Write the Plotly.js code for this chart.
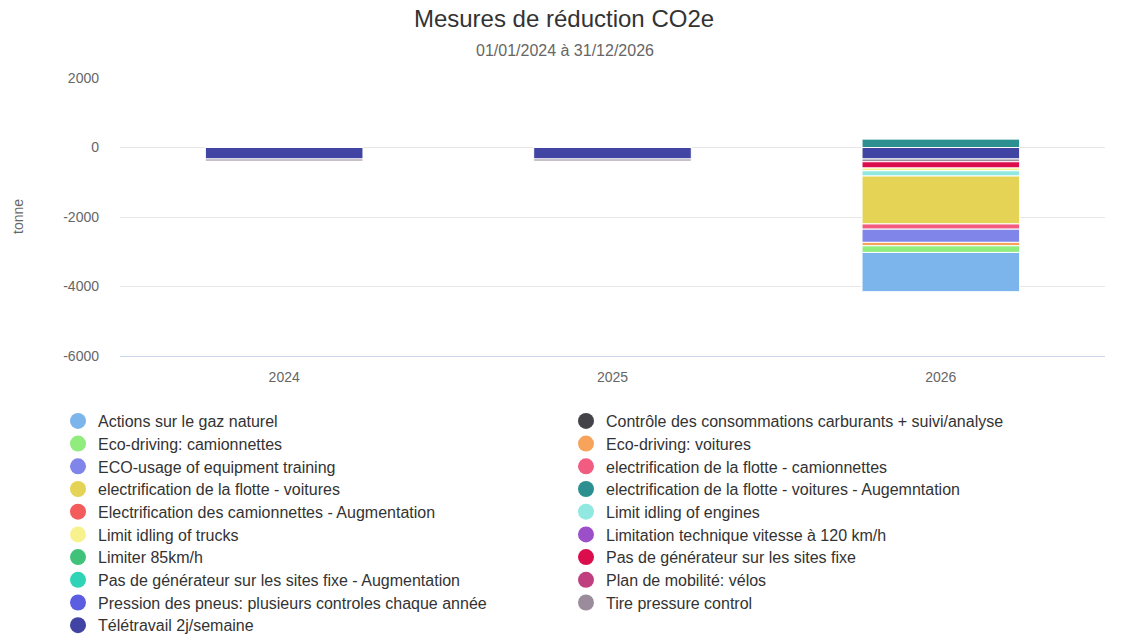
<!DOCTYPE html>
<html>
<head>
<meta charset="utf-8">
<script src="https://cdn.plot.ly/plotly-3.0.1.min.js"></script>
<style>html,body{margin:0;padding:0;background:#fff;}#chart{width:1140px;height:636px;}</style>
</head>
<body>
<div id="chart"></div>
<script>
const years = ["2024", "2025", "2026"];

const seriesNames = [
  "Actions sur le gaz naturel",
  "Contrôle des consommations carburants + suivi/analyse",
  "Eco-driving: camionnettes",
  "Eco-driving: voitures",
  "ECO-usage of equipment training",
  "electrification de la flotte - camionnettes",
  "electrification de la flotte - voitures",
  "electrification de la flotte - voitures - Augemntation",
  "Electrification des camionnettes - Augmentation",
  "Limit idling of engines",
  "Limit idling of trucks",
  "Limitation technique vitesse à 120 km/h",
  "Limiter 85km/h",
  "Pas de générateur sur les sites fixe",
  "Pas de générateur sur les sites fixe - Augmentation",
  "Plan de mobilité: vélos",
  "Pression des pneus: plusieurs controles chaque année",
  "Tire pressure control",
  "Télétravail 2j/semaine"
];

const seriesColors = [
  "#7cb5ec", "#434348", "#90ed7d", "#f7a35c", "#8085e9",
  "#f15c80", "#e4d354", "#2b908f", "#f45b5b", "#91e8e1",
  "#f7f28e", "#9b4fc9", "#40c27a", "#dc0d4d", "#2fd4b6",
  "#bf3f7f", "#5b5ee0", "#9b8c9b", "#4244a4"
];

// values per series for [2024, 2025, 2026] (tonne CO2e)
const gazNaturel        = [0, 0, -1130];
const controleConso     = [0, 0, 0];
const ecoCamionnettes   = [0, 0, -190];
const ecoVoitures       = [0, 0, -100];
const ecoUsage          = [0, 0, -380];
const elecCamionnettes  = [0, 0, -150];
const elecVoitures      = [0, 0, -1380];
const elecVoituresAugm  = [0, 0, 250];
const elecCamionAugm    = [0, 0, 0];
const idlingEngines     = [0, 0, -150];
const idlingTrucks      = [0, 0, -80];
const limitation120     = [0, 0, 0];
const limiter85         = [0, 0, 0];
const pasGenerateur     = [0, 0, -180];
const pasGenerateurAugm = [0, 0, 0];
const planMobilite      = [0, 0, 0];
const pressionPneus     = [0, 0, 0];
const tirePressure      = [-60, -60, -80];
const teletravail       = [-330, -330, -330];

const seriesValues = [
  gazNaturel, controleConso, ecoCamionnettes, ecoVoitures, ecoUsage,
  elecCamionnettes, elecVoitures, elecVoituresAugm, elecCamionAugm, idlingEngines,
  idlingTrucks, limitation120, limiter85, pasGenerateur, pasGenerateurAugm,
  planMobilite, pressionPneus, tirePressure, teletravail
];

const fontFam = "'Liberation Sans', Arial, Helvetica, sans-serif";

const traces = [];
// bars: stacked in reverse order so the first series is farthest from zero
for (let i = seriesNames.length - 1; i >= 0; i--) {
  traces.push({
    type: "bar",
    name: seriesNames[i],
    x: years,
    y: seriesValues[i],
    legendgroup: "g" + i,
    showlegend: false,
    marker: { color: seriesColors[i], line: { color: "#ffffff", width: 1 } },
    hovertemplate: "%{x}<br>" + seriesNames[i] + ": %{y}<extra></extra>"
  });
}

const layout = {
  width: 1140,
  height: 636,
  margin: { l: 120, r: 35, t: 78, b: 280, autoexpand: false },
  paper_bgcolor: "#ffffff",
  plot_bgcolor: "#ffffff",
  font: { family: fontFam, size: 14, color: "#666666" },
  title: {
    text: "Mesures de réduction CO2e",
    font: { family: fontFam, size: 24, color: "#333333" },
    x: 564 / 1140, xref: "container", xanchor: "center",
    y: 1 - 19 / 636, yref: "container", yanchor: "middle"
  },
  annotations: [{
    text: "01/01/2024 à 31/12/2026",
    xref: "paper", yref: "paper",
    x: (565 - 120) / 985, y: 1.0 + (78 - 51) / 278,
    xanchor: "center", yanchor: "middle",
    showarrow: false,
    font: { family: fontFam, size: 16, color: "#666666" }
  }, {
    text: "tonne",
    xref: "paper", yref: "paper",
    x: (18 - 120) / 985, y: 0.5,
    xanchor: "center", yanchor: "middle",
    textangle: -90,
    showarrow: false,
    font: { family: fontFam, size: 14, color: "#666666" }
  }],
  barmode: "relative",
  bargap: 0.52,
  showlegend: true,
  xaxis: {
    type: "category",
    showgrid: false,
    showline: true,
    linecolor: "#ccd6eb",
    linewidth: 1,
    ticks: "",
    ticklabelstandoff: 8,
    tickfont: { family: fontFam, size: 14, color: "#666666" },
    fixedrange: true,
    automargin: false
  },
  yaxis: {
    range: [-6000, 2000],
    tickvals: [-6000, -4000, -2000, 0, 2000],
    ticktext: ["-6000", "-4000", "-2000", "0", "2000"],
    showgrid: true,
    gridcolor: "#e6e6e6",
    gridwidth: 1,
    zeroline: false,
    showline: false,
    ticks: "",
    ticklabelstandoff: 20,
    tickfont: { family: fontFam, size: 14, color: "#666666" },
    automargin: false,
    fixedrange: true
  }
};

// legend entries (circle symbols): one small legend per entry, laid out in two columns, row by row
const rowTop = 421, rowPitch = 22.7;
for (let i = 0; i < seriesNames.length; i++) {
  const key = i === 0 ? "legend" : "legend" + (i + 1);
  const col = i % 2, row = Math.floor(i / 2);
  traces.push({
    type: "scatter",
    mode: "markers",
    name: seriesNames[i],
    x: [null],
    y: [null],
    legendgroup: "g" + i,
    legend: key,
    showlegend: true,
    marker: { color: seriesColors[i], size: 16, symbol: "circle" },
    hoverinfo: "skip"
  });
  layout[key] = {
    orientation: "v",
    xref: "container",
    yref: "container",
    xanchor: "left",
    yanchor: "middle",
    x: (col === 0 ? 58 : 566) / 1140,
    y: 1 - (rowTop + row * rowPitch) / 636,
    font: { family: fontFam, size: 16, color: "#333333" },
    bgcolor: "rgba(0,0,0,0)",
    itemwidth: 30,
    itemclick: false
  };
}

Plotly.newPlot("chart", traces, layout, { displayModeBar: false, staticPlot: true });
</script>
</body>
</html>
